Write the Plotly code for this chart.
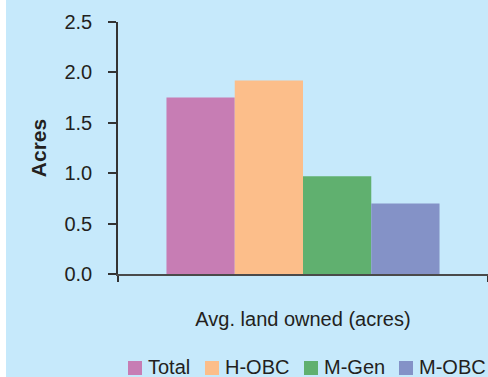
import plotly.graph_objects as go

CATEGORY = ["Avg. land owned (acres)"]
GROUPS = ["Total", "H-OBC", "M-Gen", "M-OBC"]
VALUES = [1.75, 1.92, 0.97, 0.70]
COLORS = ["#C77DB4", "#FCBE8A", "#60B06F", "#8492C7"]
Y_TICKS = [0.0, 0.5, 1.0, 1.5, 2.0, 2.5]
Y_TICKTEXT = ["0.0", "0.5", "1.0", "1.5", "2.0", "2.5"]
LEGEND_X = [128, 205, 304, 399]  # left edge of each key square, px

BG = "#C6E9FB"
INK = "#231F20"
FONT = dict(family="Liberation Sans, Arial, sans-serif", size=20, color=INK)

W, H = 488, 377
L, R, T, B = 118, 0, 22, 103
pw, ph = W - L - R, H - T - B
px = lambda v: (v - L) / pw          # pixel -> paper x
py = lambda v: (H - B - v) / ph      # pixel -> paper y

fig = go.Figure()
for name, val, col in zip(GROUPS, VALUES, COLORS):
    fig.add_trace(go.Bar(name=name, x=CATEGORY, y=[val], marker_color=col,
                         marker_line_width=0, showlegend=False))

# hand-placed key along the bottom, like the original
shapes = [dict(type="rect", xref="paper", yref="paper", layer="below",
               x0=px(0), x1=px(6), y0=-2, y1=2, fillcolor="white", line_width=0)]
annotations = []
for name, col, x0 in zip(GROUPS, COLORS, LEGEND_X):
    shapes.append(dict(type="rect", xref="paper", yref="paper",
                       x0=px(x0), x1=px(x0 + 14), y0=py(375), y1=py(361),
                       fillcolor=col, line_width=0))
    annotations.append(dict(text=name, xref="paper", yref="paper", x=px(x0 + 18),
                            y=py(367), xanchor="left", yanchor="middle",
                            showarrow=False, font=dict(size=20)))

fig.update_layout(
    width=W, height=H, margin=dict(l=L, r=R, t=T, b=B, pad=0),
    font=FONT, barmode="group", bargap=0.262, bargroupgap=0,
    paper_bgcolor=BG, plot_bgcolor=BG, showlegend=False,
    shapes=shapes, annotations=annotations,
)
fig.update_xaxes(showline=True, linecolor="#4A4A4A", linewidth=2, showgrid=False,
                 ticks="outside", tickson="boundaries", ticklen=6, tickcolor="#333",
                 tickwidth=1.5, ticklabelstandoff=26, automargin=False)
fig.update_yaxes(range=[0, 2.5], tickvals=Y_TICKS, ticktext=Y_TICKTEXT,
                 showline=True, linecolor="#333", linewidth=1.5, showgrid=False,
                 zeroline=False, ticks="outside", ticklen=8, tickcolor="#333",
                 tickwidth=1.5, ticklabelstandoff=12, automargin=False,
                 title=dict(text="<b>Acres</b>", font=dict(size=21), standoff=12))

fig.write_html("out.html", config={"displayModeBar": False},
               post_script="document.body.style.margin='0';")
